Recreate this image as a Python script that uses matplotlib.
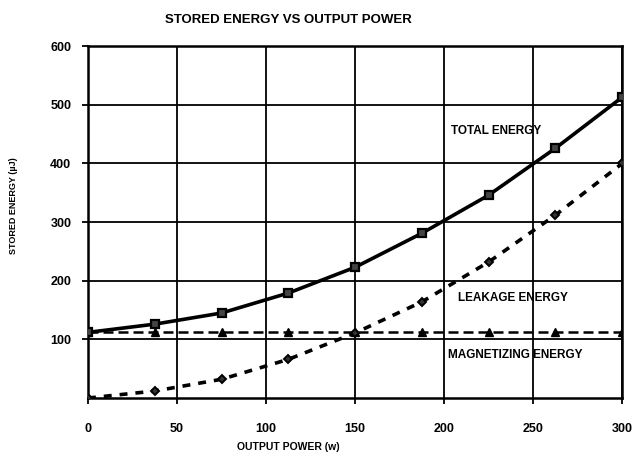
import numpy as np
import matplotlib.pyplot as plt

power = [0, 37.5, 75, 112.5, 150, 187.5, 225, 262.5, 300]
total = [112, 126, 145, 179, 223, 281, 346, 426, 513]
leakage = [112, 112, 112, 112, 112, 112, 112, 112, 112]
magnetizing = [0, 12, 32, 66, 111, 164, 232, 312, 400]

xticks = [0, 50, 100, 150, 200, 250, 300]
yticks = [100, 200, 300, 400, 500, 600]

plt.rcParams['font.family'] = ['Liberation Sans Narrow', 'Liberation Sans', 'DejaVu Sans']
plt.rcParams['font.weight'] = 'bold'

fig = plt.figure(figsize=(6.33, 4.57), dpi=100)
ax = fig.add_axes([0.139, 0.129, 0.844, 0.770])

ax.plot(power, total, color='black', lw=2.6, marker='s', ms=6,
        mfc='#444444', mec='black', mew=1.6, zorder=4)
ax.plot(power, leakage, color='black', lw=1.8, ls=(0, (4, 2)), marker='^',
        ms=6, zorder=3)
ax.plot(power, magnetizing, color='black', lw=2.6, ls=(0, (2.2, 2.2)),
        marker='D', ms=4.5, mfc='#333333', mec='black', mew=1.4, zorder=3)

ax.set_xlim(0, 300)
ax.set_ylim(0, 600)
ax.set_xticks(xticks)
ax.set_yticks(yticks)
ax.grid(True, color='black', lw=1.3)
ax.set_axisbelow(True)
for s in ax.spines.values():
    s.set_linewidth(1.8)
ax.tick_params(axis='both', direction='out', length=4, width=1.3,
               labelsize=9)
ax.tick_params(axis='x', pad=14)
ax.tick_params(axis='y', pad=8)

ax.text(204, 456, 'TOTAL ENERGY', fontsize=8.5, va='center')
ax.text(208, 170, 'LEAKAGE ENERGY', fontsize=8.5, va='center')
ax.text(202, 73, 'MAGNETIZING ENERGY', fontsize=8.5, va='center')

fig.text(0.455, 0.956, 'STORED ENERGY VS OUTPUT POWER', fontsize=9.5,
         fontweight='bold', ha='center', va='center')
fig.text(0.455, 0.012, 'OUTPUT POWER (w)', fontsize=7.5,
         fontweight='bold', ha='center', va='bottom')
fig.text(0.022, 0.55, 'STORED ENERGY (\u00b5J)', fontsize=6.5,
         fontweight='bold', rotation=90, ha='center', va='center')

fig.savefig('out.png', dpi=100)
